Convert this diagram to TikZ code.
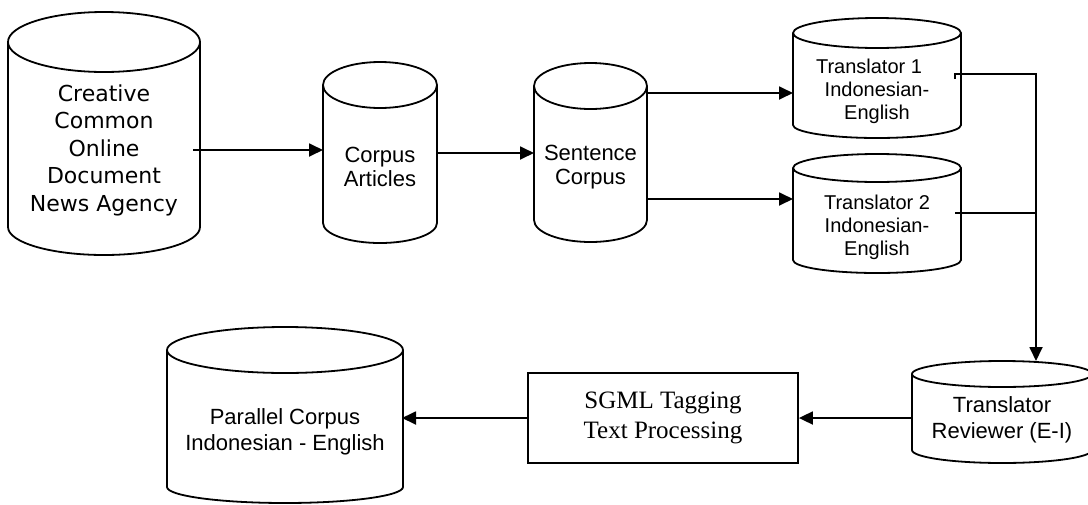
\documentclass[tikz,border=0pt]{standalone}
\usepackage{fontspec}
\setmainfont{Liberation Sans}
\newfontfamily\dvs{DejaVu Sans}
\newfontfamily\tnr{Liberation Serif}
\usetikzlibrary{arrows.meta,calc}

\tikzset{
  dbbox/.style={rectangle, draw=none, inner sep=0pt, outer sep=0pt},
  cylline/.style={line width=1.8pt, line join=round},
  conn/.style={line width=1.8pt},
  arr/.style={line width=1.8pt, -{Triangle[length=14pt,width=13pt]}},
  lbl/.style={align=center, inner sep=0pt, font=\fontsize{22}{24}\selectfont},
  procbox/.style={rectangle, draw, line width=1.8pt, inner sep=0pt, align=center,
    minimum width=270pt, minimum height=90pt, font=\tnr\fontsize{25}{30}\selectfont}
}

\newcommand\cylout[3]{%
  \draw[cylline] let \p1=(#1.north west), \p2=(#1.south east), \n1={(\x2-\x1)/2} in
    (\x1,\y1-#2pt) -- (\x1,\y2+#3pt)
    arc[start angle=180, end angle=360, x radius={\n1*1pt}, y radius=#3pt]
    -- (\x2,\y1-#2pt)
    (\x1+\n1*1pt,\y1-#2pt) ellipse[x radius={\n1*1pt}, y radius=#2pt];}

\begin{document}
\begin{tikzpicture}[x=1pt, y=-1pt]
\useasboundingbox (0,0) rectangle (1088,504);
\clip (0,0) rectangle (1088,504);

% cylinders
\node[dbbox, minimum width=192pt, minimum height=243pt] (src) at (104,133.5) {};
\cylout{src}{30}{28}
\node[lbl, font=\dvs\fontsize{22}{27.5}\selectfont] (srct) at (104,150)
  {Creative\\Common\\Online\\Document\\News Agency};

\node[dbbox, minimum width=114pt, minimum height=181pt] (corpus) at (380,152.5) {};
\cylout{corpus}{23}{20}
\node[lbl] (corpust) at (380,167) {Corpus\\Articles};

\node[dbbox, minimum width=113pt, minimum height=179pt] (sent) at (590.5,152.5) {};
\cylout{sent}{23}{22}
\node[lbl] (sentt) at (590.5,167) {Sentence\\Corpus};

\node[dbbox, minimum width=168pt, minimum height=120pt] (t1) at (877,78) {};
\cylout{t1}{15}{13}
\node[lbl, font=\fontsize{20}{23}\selectfont] (t1t) at (877,91)
  {Translator 1\rule{16pt}{0pt}\\Indonesian-\\English};

\node[dbbox, minimum width=168pt, minimum height=119pt] (t2) at (877,213.5) {};
\cylout{t2}{14}{13}
\node[lbl, font=\fontsize{20}{23}\selectfont] (t2t) at (877,227)
  {Translator 2\\Indonesian-\\English};

\node[dbbox, minimum width=180pt, minimum height=102pt] (rev) at (1002,412) {};
\cylout{rev}{13}{13}
\node[lbl, font=\fontsize{22}{26}\selectfont] (revt) at (1002,420)
  {Translator\\Reviewer (E-I)};

\node[dbbox, minimum width=236pt, minimum height=176pt] (par) at (285,415) {};
\cylout{par}{23}{16}
\node[lbl, font=\fontsize{22}{26.5}\selectfont] (part) at (285,432)
  {Parallel Corpus\\Indonesian - English};

% process box
\node[procbox] (sgml) at (663,418) {SGML Tagging\\Text Processing};

% connector points
\coordinate (srcout) at ([xshift=-7pt,yshift=-16.5pt]src.east);
\coordinate (cout) at ([yshift=-0.5pt]corpus.east);
\coordinate (t1in) at ([yshift=-15pt]t1.west);
\coordinate (t2in) at ([yshift=14.5pt]t2.west);
\coordinate (t1out) at ([xshift=-6pt,yshift=4pt]t1.east);
\coordinate (t2out) at ([xshift=-6pt,yshift=0.5pt]t2.east);
\coordinate (revin) at ([xshift=34pt]rev.north);

% connectors
\draw[arr] (srcout) -- (srcout -| corpus.west);
\draw[arr] (cout) -- (cout -| sent.west);
\draw[arr] (sent.east |- t1in) -- (t1in);
\draw[arr] (sent.east |- t2in) -- (t2in);
\draw[arr] ([yshift=-5pt]t1out) -- (t1out) -| (revin);
\draw[conn] (t2out) -- (t2out -| revin);
\draw[arr] (rev.west |- sgml.east) -- (sgml.east);
\draw[arr] (sgml.west) -- ([xshift=-1pt]sgml.west -| par.east);
\end{tikzpicture}
\end{document}
